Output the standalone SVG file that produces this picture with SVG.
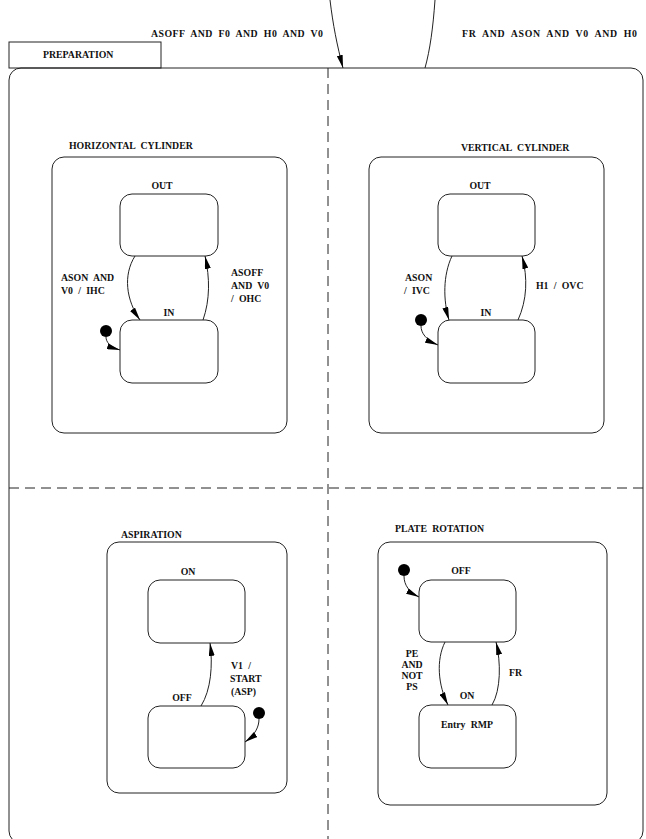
<svg xmlns="http://www.w3.org/2000/svg" width="646" height="839" viewBox="0 0 646 839">
<style>
text{font-family:"Liberation Serif","Times New Roman",serif;font-weight:bold;font-size:9.8px;fill:#111;word-spacing:2.8px}
.m{text-anchor:middle}
.box{fill:none;stroke:#222;stroke-width:1}
.edge{fill:none;stroke:#222;stroke-width:1}
.dash{fill:none;stroke:#222;stroke-width:1;stroke-dasharray:10,6}
.init{fill:#000}
</style>
<defs>
<marker id="ah" viewBox="0 0 13 6" refX="13" refY="3" markerWidth="13" markerHeight="6" orient="auto" markerUnits="userSpaceOnUse">
<path d="M0,0 L13,3 L0,6 Z" fill="#000"/>
</marker>
</defs>
<rect width="646" height="839" fill="#fff"/>

<g id="preparation">
<rect class="box" x="9" y="42" width="152" height="26"/>
<text x="43" y="58">PREPARATION</text>
<rect class="box" x="9" y="68" width="634" height="775" rx="12"/>
<line class="dash" x1="328" y1="68" x2="328" y2="839"/>
<line class="dash" x1="9" y1="488" x2="643" y2="488"/>
</g>

<g id="horizontal-cylinder">
<text x="69" y="149">HORIZONTAL CYLINDER</text>
<rect class="box" x="52" y="157" width="235" height="276" rx="12"/>
<g id="hc-out">
<text class="m" x="162" y="189">OUT</text>
<rect class="box" x="120" y="194" width="98" height="62" rx="12"/>
</g>
<g id="hc-in">
<text class="m" x="169" y="316">IN</text>
<rect class="box" x="120" y="320" width="98" height="63" rx="12"/>
</g>
<text x="61" y="281">ASON AND</text>
<text x="61" y="294">V0 / IHC</text>
<text x="231" y="276">ASOFF</text>
<text x="231" y="289">AND V0</text>
<text x="231" y="302">/ OHC</text>
</g>

<g id="vertical-cylinder">
<text x="461" y="151">VERTICAL CYLINDER</text>
<rect class="box" x="369" y="157" width="235" height="276" rx="12"/>
<g id="vc-out">
<text class="m" x="480" y="189">OUT</text>
<rect class="box" x="438" y="194" width="97" height="62" rx="12"/>
</g>
<g id="vc-in">
<text class="m" x="486" y="316">IN</text>
<rect class="box" x="438" y="320" width="97" height="63" rx="12"/>
</g>
<text x="405" y="281">ASON</text>
<text x="404" y="294">/ IVC</text>
<text x="536" y="289">H1 / OVC</text>
</g>

<g id="aspiration">
<text x="121" y="538">ASPIRATION</text>
<rect class="box" x="107" y="542" width="180" height="251" rx="12"/>
<g id="asp-on">
<text class="m" x="188" y="575">ON</text>
<rect class="box" x="148" y="580" width="97" height="63" rx="12"/>
</g>
<g id="asp-off">
<text class="m" x="182" y="701">OFF</text>
<rect class="box" x="148" y="706" width="97" height="62" rx="12"/>
</g>
<text x="231" y="669">V1 /</text>
<text x="230" y="682">START</text>
<text x="231" y="695">(ASP)</text>
</g>

<g id="plate-rotation">
<text x="395" y="532">PLATE ROTATION</text>
<rect class="box" x="378" y="542" width="229" height="263" rx="12"/>
<g id="pr-off">
<text class="m" x="461" y="574">OFF</text>
<rect class="box" x="419" y="580" width="97" height="62" rx="12"/>
</g>
<g id="pr-on">
<text class="m" x="467" y="699">ON</text>
<rect class="box" x="419" y="705" width="97" height="63" rx="12"/>
<text class="m" x="467" y="728">Entry RMP</text>
</g>
<text class="m" x="412" y="657">PE</text>
<text class="m" x="412" y="668">AND</text>
<text class="m" x="412" y="679">NOT</text>
<text class="m" x="412" y="690">PS</text>
<text x="509" y="676">FR</text>
</g>

<g id="top-labels">
<text x="151" y="37" textLength="172" lengthAdjust="spacing">ASOFF AND F0 AND H0 AND V0</text>
<text x="462" y="37" textLength="175" lengthAdjust="spacing">FR AND ASON AND V0 AND H0</text>
</g>

<g id="initials">
<circle class="init" cx="106" cy="331" r="6"/>
<circle class="init" cx="421" cy="320" r="6"/>
<circle class="init" cx="259" cy="713" r="6"/>
<circle class="init" cx="404" cy="570" r="6"/>
</g>

<g id="connectors">
<path class="edge" d="M330,0 C333,25 337,45 343,68" marker-end="url(#ah)"/>
<path class="edge" d="M435,0 C433,28 430,50 425,68"/>
<path class="edge" d="M135,256 C123,275 126,300 140,320" marker-end="url(#ah)"/>
<path class="edge" d="M203,320 C210,300 210,278 205,256" marker-end="url(#ah)"/>
<path class="edge" d="M106,337 C106,342 110,347 120,350" marker-end="url(#ah)"/>
<path class="edge" d="M452,256 C443,275 443,300 449,320" marker-end="url(#ah)"/>
<path class="edge" d="M518,320 C527,300 528,278 522,256" marker-end="url(#ah)"/>
<path class="edge" d="M421,326 C421,333 426,340 438,345" marker-end="url(#ah)"/>
<path class="edge" d="M201,706 C211,690 213,665 210,643" marker-end="url(#ah)"/>
<path class="edge" d="M259,719 C259,727 255,735 245,742" marker-end="url(#ah)"/>
<path class="edge" d="M445,642 C436,660 438,685 448,705" marker-end="url(#ah)"/>
<path class="edge" d="M492,705 C501,690 501,662 496,642" marker-end="url(#ah)"/>
<path class="edge" d="M404,576 C404,585 409,592 419,597" marker-end="url(#ah)"/>
</g>
</svg>
